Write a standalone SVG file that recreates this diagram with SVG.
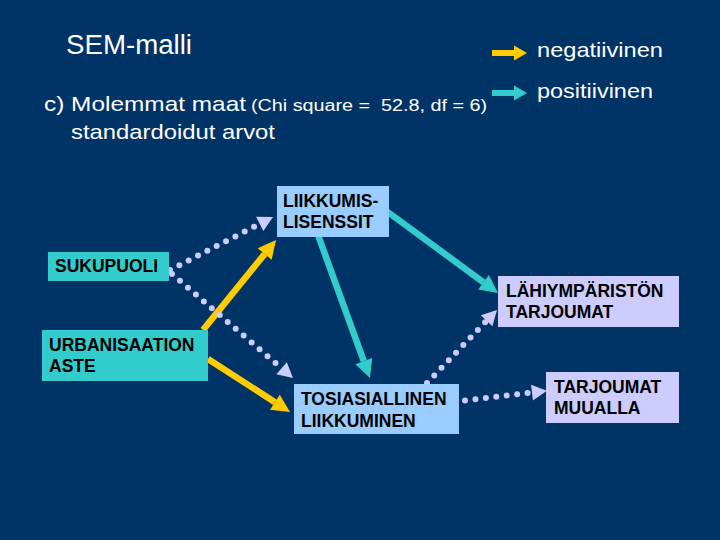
<svg xmlns="http://www.w3.org/2000/svg" width="720" height="540" viewBox="0 0 720 540">
<style>
.t{font-family:"Liberation Sans",Arial,sans-serif;fill:#ffffff;}
.n{font-family:"Liberation Sans",Arial,sans-serif;font-weight:bold;font-size:17.5px;fill:#000000;}
.y{stroke:#ffcc00;stroke-width:6.5;fill:none;}
.c{stroke:#33cccc;stroke-width:6.5;fill:none;}
.d{stroke:#ccccff;stroke-width:6;stroke-dasharray:0 10.5;stroke-linecap:round;fill:none;}
</style>
<defs>
<marker id="ay" markerUnits="userSpaceOnUse" orient="auto" refX="0" refY="0" markerWidth="20" markerHeight="20" overflow="visible"><path d="M0,-9 L18,0 L0,9 z" fill="#ffcc00"/></marker>
<marker id="ac" markerUnits="userSpaceOnUse" orient="auto" refX="0" refY="0" markerWidth="20" markerHeight="20" overflow="visible"><path d="M0,-9 L18,0 L0,9 z" fill="#33cccc"/></marker>
<marker id="ad" markerUnits="userSpaceOnUse" orient="auto" refX="0" refY="0" markerWidth="20" markerHeight="20" overflow="visible"><path d="M0,-8 L15,0 L0,8 z" fill="#ccccff"/></marker>
</defs>
<rect width="720" height="540" fill="#003366"/>
<g id="title">
<text class="t" x="66" y="54" font-size="27" textLength="126" lengthAdjust="spacingAndGlyphs">SEM-malli</text>
<text class="t" x="44" y="111" font-size="21" textLength="202" lengthAdjust="spacingAndGlyphs">c) Molemmat maat</text>
<text class="t" x="251" y="111" font-size="16" textLength="236" lengthAdjust="spacingAndGlyphs" xml:space="preserve" style="white-space:pre">(Chi square =  52.8, df = 6)</text>
<text class="t" x="71" y="139" font-size="21" textLength="204" lengthAdjust="spacingAndGlyphs">standardoidut arvot</text>
</g>
<g id="legend">
<line x1="492" y1="53" x2="515" y2="53" stroke="#ffcc00" stroke-width="6"/>
<path d="M514,45.5 L527,53 L514,60.5 z" fill="#ffcc00"/>
<text class="t" x="537" y="57" font-size="21" textLength="126" lengthAdjust="spacingAndGlyphs">negatiivinen</text>
<line x1="492" y1="93" x2="515" y2="93" stroke="#33cccc" stroke-width="6"/>
<path d="M514,85.5 L527,93 L514,100.5 z" fill="#33cccc"/>
<text class="t" x="537" y="98" font-size="21" textLength="116" lengthAdjust="spacingAndGlyphs">positiivinen</text>
</g>
<g id="connectors">
<line class="y" x1="203" y1="330" x2="264.7" y2="254" marker-end="url(#ay)"/>
<line class="y" x1="208" y1="359" x2="274.9" y2="402.2" marker-end="url(#ay)"/>
<line class="c" x1="318" y1="235" x2="363.8" y2="361.1" marker-end="url(#ac)"/>
<line class="c" x1="385" y1="210" x2="483.5" y2="282.3" marker-end="url(#ac)"/>
<line class="d" x1="170" y1="270" x2="259.7" y2="223.9" marker-end="url(#ad)"/>
<line class="d" x1="172" y1="274" x2="281.6" y2="368.2" marker-end="url(#ad)"/>
<line class="d" x1="427" y1="383" x2="486.6" y2="320.8" marker-end="url(#ad)"/>
<line class="d" x1="465" y1="400.5" x2="532" y2="392.6" marker-end="url(#ad)"/>
</g>
<g id="liikkumislisenssit">
<rect x="277" y="186" width="112" height="51" fill="#99ccff"/>
<text class="n" x="283" y="207">LIIKKUMIS-</text>
<text class="n" x="283" y="228">LISENSSIT</text>
</g>
<g id="sukupuoli">
<rect x="48" y="252" width="121" height="29" fill="#33cccc"/>
<text class="n" x="55" y="272">SUKUPUOLI</text>
</g>
<g id="urbanisaation">
<rect x="42" y="330" width="166" height="51" fill="#33cccc"/>
<text class="n" x="49" y="351">URBANISAATION</text>
<text class="n" x="49" y="372">ASTE</text>
</g>
<g id="tosiasiallinen">
<rect x="294" y="384" width="165" height="50" fill="#99ccff"/>
<text class="n" x="301" y="405">TOSIASIALLINEN</text>
<text class="n" x="301" y="427">LIIKKUMINEN</text>
</g>
<g id="lahiymparisto">
<rect x="498" y="276" width="181" height="51" fill="#ccccff"/>
<text class="n" x="506" y="297">LÄHIYMPÄRISTÖN</text>
<text class="n" x="506" y="318">TARJOUMAT</text>
</g>
<g id="muualla">
<rect x="546" y="372" width="133" height="51" fill="#ccccff"/>
<text class="n" x="554" y="393">TARJOUMAT</text>
<text class="n" x="554" y="414">MUUALLA</text>
</g>
</svg>
